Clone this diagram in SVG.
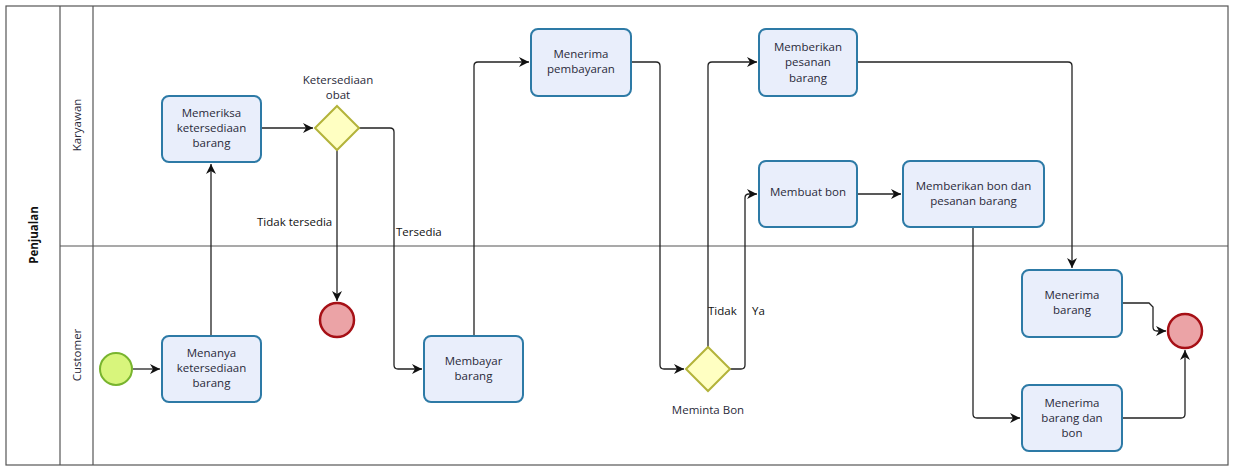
<svg xmlns="http://www.w3.org/2000/svg" width="1237" height="472" viewBox="0 0 1237 472">
<style>
.lane{fill:none;stroke:#555;stroke-width:1.2}
.task rect{fill:#e9eefb;stroke:#2d7aa6;stroke-width:2}
.gw polygon{fill:#ffffc2;stroke:#b3b33a;stroke-width:2}
.t{font-family:"Open Sans","DejaVu Sans",sans-serif;font-size:11.5px;fill:#2a2a3a;text-anchor:middle}
.lbl{font-family:"Open Sans","DejaVu Sans",sans-serif;font-size:11.5px;fill:#111}
.edges path{fill:none;stroke:#222;stroke-width:1.3}
</style>
<defs>
<marker id="arr" viewBox="0 0 10 10" refX="10" refY="5" markerWidth="10" markerHeight="10" markerUnits="userSpaceOnUse" orient="auto">
<path d="M0,0 L10,5 L0,10 L3,5 Z" fill="#111"/>
</marker>
</defs>
<rect width="1237" height="472" fill="#fff"/>
<g id="pool">
<rect x="6" y="6" width="1222" height="459" class="lane"/>
<line x1="60" y1="6" x2="60" y2="465" class="lane"/>
<line x1="93" y1="6" x2="93" y2="465" class="lane"/>
<line x1="60" y1="246" x2="1228" y2="246" class="lane"/>
<text transform="translate(38,235) rotate(-90)" class="t" style="font-weight:bold;fill:#111">Penjualan</text>
<text transform="translate(81,125) rotate(-90)" class="t">Karyawan</text>
<text transform="translate(81,355) rotate(-90)" class="t">Customer</text>
</g>
<g class="edges" id="connectors">
<path d="M133,369 H160" marker-end="url(#arr)"/>
<path d="M211,336 V164" marker-end="url(#arr)"/>
<path d="M261,128 H313" marker-end="url(#arr)"/>
<path d="M337,150 V301" marker-end="url(#arr)"/>
<path d="M359,128 H390 Q394,128 394,132 V365 Q394,369 398,369 H422" marker-end="url(#arr)"/>
<path d="M474,336 V66 Q474,62 478,62 H529" marker-end="url(#arr)"/>
<path d="M631,62 H656 Q660,62 660,66 V365 Q660,369 664,369 H684" marker-end="url(#arr)"/>
<path d="M708,347 V66 Q708,62 712,62 H757" marker-end="url(#arr)"/>
<path d="M730,369 H741 Q745,369 745,365 V198 Q745,194 749,194 H757" marker-end="url(#arr)"/>
<path d="M857,194 H901" marker-end="url(#arr)"/>
<path d="M857,62 H1068 Q1072,62 1072,66 V268" marker-end="url(#arr)"/>
<path d="M973,227 V414 Q973,418 977,418 H1020" marker-end="url(#arr)"/>
<path d="M1122,303 H1149 L1153,307 V327 Q1153,331 1157,331 H1166" marker-end="url(#arr)"/>
<path d="M1122,418 H1181 Q1185,418 1185,414 V350" marker-end="url(#arr)"/>
</g>
<g class="lbl">
<text x="257" y="226">Tidak tersedia</text>
<text x="396" y="236">Tersedia</text>
<text x="708" y="315">Tidak</text>
<text x="752" y="315">Ya</text>
</g>
<g id="start"><circle cx="116" cy="369" r="16" fill="#d8f57c" stroke="#78b42e" stroke-width="2"/></g>
<g id="end1"><circle cx="337" cy="320" r="17" fill="#eba3a6" stroke="#a61016" stroke-width="2.5"/></g>
<g id="end2"><circle cx="1185" cy="331" r="17" fill="#eba3a6" stroke="#a61016" stroke-width="2.5"/></g>
<g id="gw1" class="gw"><polygon points="337,106 359,128 337,150 315,128"/>
<text class="t" x="338" y="84">Ketersediaan</text><text class="t" x="338" y="99">obat</text></g>
<g id="gw2" class="gw"><polygon points="708,347 730,369 708,391 686,369"/>
<text class="t" x="708" y="414">Meminta Bon</text></g>
<g id="t1" class="task"><rect x="162" y="96" width="99" height="66" rx="7"/>
<text class="t" x="211.5" y="117">Memeriksa</text><text class="t" x="211.5" y="132">ketersediaan</text><text class="t" x="211.5" y="147">barang</text></g>
<g id="t2" class="task"><rect x="162" y="336" width="99" height="66" rx="7"/>
<text class="t" x="211.5" y="357">Menanya</text><text class="t" x="211.5" y="372">ketersediaan</text><text class="t" x="211.5" y="387">barang</text></g>
<g id="t3" class="task"><rect x="424" y="336" width="99" height="66" rx="7"/>
<text class="t" x="473.5" y="365">Membayar</text><text class="t" x="473.5" y="380">barang</text></g>
<g id="t4" class="task"><rect x="531" y="29" width="100" height="67" rx="7"/>
<text class="t" x="581" y="58">Menerima</text><text class="t" x="581" y="73">pembayaran</text></g>
<g id="t5" class="task"><rect x="759" y="29" width="98" height="67" rx="7"/>
<text class="t" x="808" y="51">Memberikan</text><text class="t" x="808" y="66">pesanan</text><text class="t" x="808" y="82">barang</text></g>
<g id="t6" class="task"><rect x="759" y="161" width="98" height="66" rx="7"/>
<text class="t" x="808" y="196">Membuat bon</text></g>
<g id="t7" class="task"><rect x="903" y="161" width="141" height="66" rx="7"/>
<text class="t" x="973.5" y="190">Memberikan bon dan</text><text class="t" x="973.5" y="205">pesanan barang</text></g>
<g id="t8" class="task"><rect x="1022" y="270" width="100" height="67" rx="7"/>
<text class="t" x="1072" y="299">Menerima</text><text class="t" x="1072" y="314">barang</text></g>
<g id="t9" class="task"><rect x="1022" y="385" width="100" height="66" rx="7"/>
<text class="t" x="1072" y="407">Menerima</text><text class="t" x="1072" y="422">barang dan</text><text class="t" x="1072" y="437">bon</text></g>
</svg>
